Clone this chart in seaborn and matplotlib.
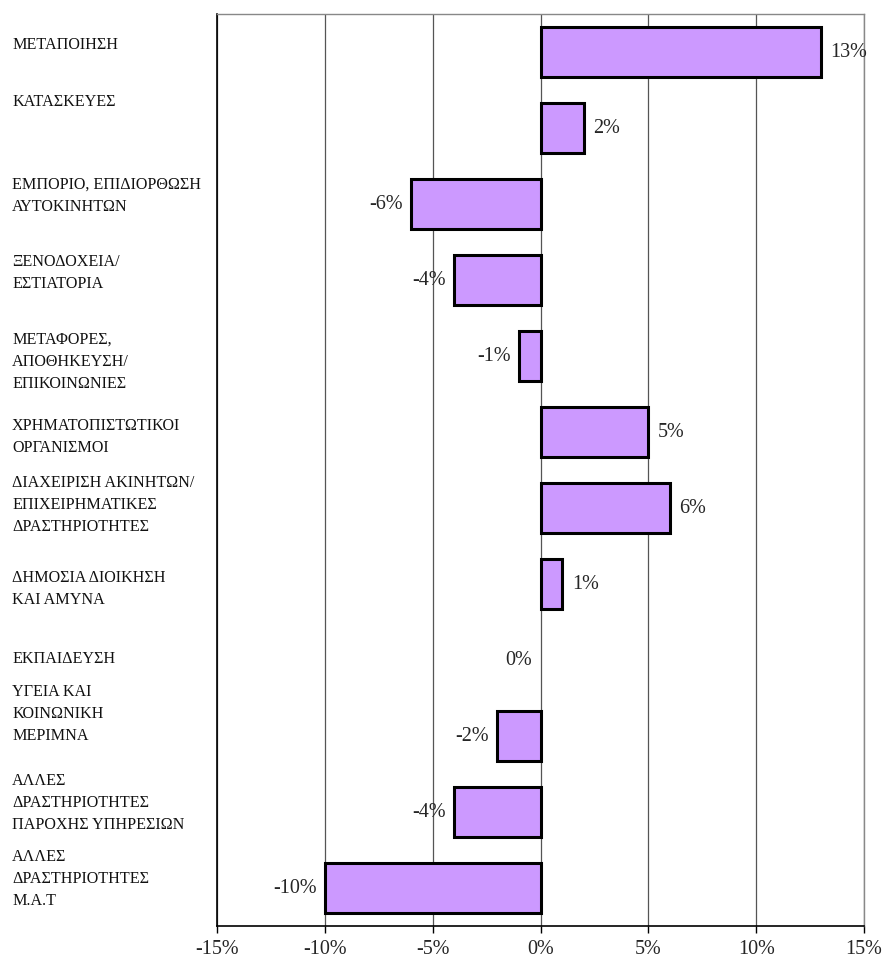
import matplotlib
matplotlib.use("Agg")
import matplotlib.pyplot as plt
import seaborn as sns
import pandas as pd

categories = [
    "ΜΕΤΑΠΟΙΗΣΗ",
    "ΚΑΤΑΣΚΕΥΕΣ",
    "ΕΜΠΟΡΙΟ, ΕΠΙΔΙΟΡΘΩΣΗ\nΑΥΤΟΚΙΝΗΤΩΝ",
    "ΞΕΝΟΔΟΧΕΙΑ/\nΕΣΤΙΑΤΟΡΙΑ",
    "ΜΕΤΑΦΟΡΕΣ,\nΑΠΟΘΗΚΕΥΣΗ/\nΕΠΙΚΟΙΝΩΝΙΕΣ",
    "ΧΡΗΜΑΤΟΠΙΣΤΩΤΙΚΟΙ\nΟΡΓΑΝΙΣΜΟΙ",
    "ΔΙΑΧΕΙΡΙΣΗ ΑΚΙΝΗΤΩΝ/\nΕΠΙΧΕΙΡΗΜΑΤΙΚΕΣ\nΔΡΑΣΤΗΡΙΟΤΗΤΕΣ",
    "ΔΗΜΟΣΙΑ ΔΙΟΙΚΗΣΗ\nΚΑΙ ΑΜΥΝΑ",
    "ΕΚΠΑΙΔΕΥΣΗ",
    "ΥΓΕΙΑ ΚΑΙ\nΚΟΙΝΩΝΙΚΗ\nΜΕΡΙΜΝΑ",
    "ΑΛΛΕΣ\nΔΡΑΣΤΗΡΙΟΤΗΤΕΣ\nΠΑΡΟΧΗΣ ΥΠΗΡΕΣΙΩΝ",
    "ΑΛΛΕΣ\nΔΡΑΣΤΗΡΙΟΤΗΤΕΣ\nΜ.Α.Τ",
]
values = [13, 2, -6, -4, -1, 5, 6, 1, 0, -2, -4, -10]
value_labels = ["13%", "2%", "-6%", "-4%", "-1%", "5%", "6%", "1%", "0%", "-2%", "-4%", "-10%"]
x_ticks = [-15, -10, -5, 0, 5, 10, 15]
x_tick_labels = ["-15%", "-10%", "-5%", "0%", "5%", "10%", "15%"]

# vertical shift (pixels, down positive) of each category label, mimicking the original's wrapping
label_shift_px = [-7, -26, -8, -7, 6, 5, -3, 5, -1, -22, -9, -9]

sns.set_theme(style="white")
plt.rcParams["font.family"] = ["Liberation Serif", "DejaVu Serif"]

fig = plt.figure(figsize=(8.85, 9.67), dpi=100)
ax = fig.add_axes([217 / 885, 1 - 926 / 967, (864 - 217) / 885, (926 - 14) / 967])

df = pd.DataFrame({"cat": categories, "val": values})
sns.barplot(data=df, y="cat", x="val", orient="h", color="#CC99FF",
            saturation=1, width=0.66, edgecolor="black", linewidth=2.2,
            ax=ax, zorder=3)
for p in ax.patches:
    if p.get_width() == 0:
        p.set_linewidth(0)

ax.set_xlim(-15, 15)
ax.set_ylim(len(categories) - 0.5, -0.5)
ax.set_xticks(x_ticks)
ax.set_xticklabels(x_tick_labels, fontsize=14.5)
ax.set_xlabel("")
ax.set_ylabel("")

ax.set_yticks(range(len(categories)))
ax.set_yticklabels([])
ax.tick_params(axis="y", length=0)
ax.tick_params(axis="x", length=5, width=1, color="black", direction="out",
               bottom=True, pad=5)

label_x = (12 - 217) / (864 - 217)
for i, (cat, dy) in enumerate(zip(categories, label_shift_px)):
    ax.annotate(cat, xy=(label_x, i), xycoords=("axes fraction", "data"),
                xytext=(0, -dy * 0.72), textcoords="offset points",
                ha="left", va="center", fontsize=11.6, linespacing=1.5,
                color="#111111", annotation_clip=False)

ax.grid(axis="x", color="#555555", linewidth=0.9, zorder=0)
ax.grid(axis="y", visible=False)
for side in ["top", "right"]:
    ax.spines[side].set_color("#888888")
    ax.spines[side].set_linewidth(1.0)
for side in ["left", "bottom"]:
    ax.spines[side].set_color("black")
    ax.spines[side].set_linewidth(1.2)

for i, (v, lab) in enumerate(zip(values, value_labels)):
    if v > 0:
        ax.annotate(lab, (v, i), xytext=(7, 0), textcoords="offset points",
                    ha="left", va="center", fontsize=14.5, zorder=4)
    else:
        ax.annotate(lab, (v, i), xytext=(-6, 0), textcoords="offset points",
                    ha="right", va="center", fontsize=14.5, zorder=4)

fig.savefig("out.png", dpi=100)
